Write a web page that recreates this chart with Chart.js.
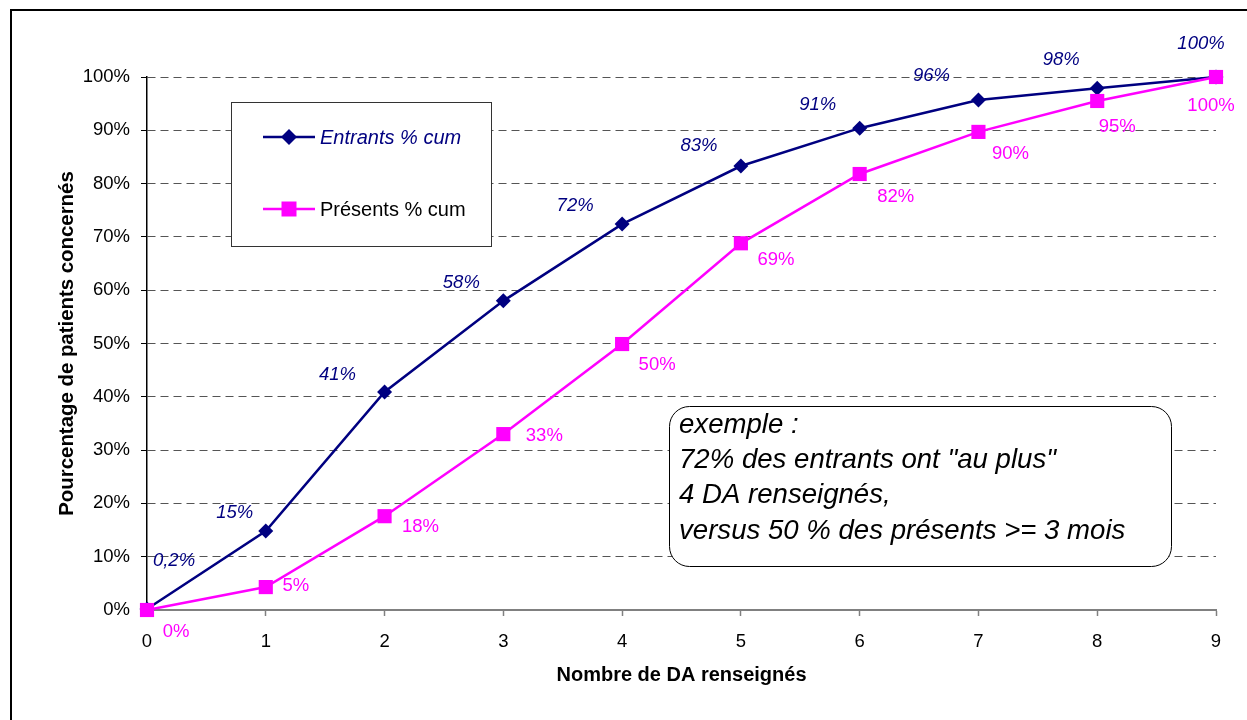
<!DOCTYPE html>
<html>
<head>
<meta charset="utf-8">
<script src="https://cdn.jsdelivr.net/npm/chart.js@4.4.1/dist/chart.umd.min.js"></script>
<style>
  html, body { margin: 0; padding: 0; background: #fff; }
  canvas { display: block; }
</style>
</head>
<body>
<canvas id="chart" width="1247" height="720"></canvas>
<script>
// data
const categories = ["0", "1", "2", "3", "4", "5", "6", "7", "8", "9"];
const entrants = [0.2, 14.8, 40.9, 58.0, 72.4, 83.3, 90.4, 95.7, 97.9, 100];
const presents = [0, 4.3, 17.6, 33.0, 49.9, 68.8, 81.8, 89.7, 95.5, 100];
const entrantsLabels = ["0,2%", "15%", "41%", "58%", "72%", "83%", "91%", "96%", "98%", "100%"];
const presentsLabels = ["0%", "5%", "18%", "33%", "50%", "69%", "82%", "90%", "95%", "100%"];
const noteLines = [
    "exemple :",
    "72% des entrants ont \"au plus\"",
    "4 DA renseignés,",
    "versus 50 % des présents >= 3 mois"
];

// label placement (px offsets from each point, as in the original)
const entrantsDx = [27, -31, -47, -42, -47, -42, -42, -47, -36, -15];
const entrantsDy = [-48, -18, -17, -18, -18, -20, -23, -24, -28, -33];
const presentsDx = [29, 30, 36, 41, 35, 35, 36, 32, 20, -5];
const presentsDy = [22, -1, 11, 2, 21, 17, 23, 22, 26, 29];

const FONT = "'Liberation Sans', Arial, sans-serif";
const NAVY = "#000080";
const PINK = "#FF00FF";

function marker(ctx, style, x, y, color) {
    ctx.fillStyle = color;
    ctx.beginPath();
    if (style === "rectRot") {
        ctx.moveTo(x, y - 8);
        ctx.lineTo(x + 8, y);
        ctx.lineTo(x, y + 8);
        ctx.lineTo(x - 8, y);
        ctx.closePath();
    } else {
        ctx.rect(x - 7.5, y - 7.5, 15, 15);
    }
    ctx.fill();
}

function roundRect(ctx, x, y, w, h, r) {
    ctx.beginPath();
    ctx.moveTo(x + r, y);
    ctx.lineTo(x + w - r, y);
    ctx.arcTo(x + w, y, x + w, y + r, r);
    ctx.lineTo(x + w, y + h - r);
    ctx.arcTo(x + w, y + h, x + w - r, y + h, r);
    ctx.lineTo(x + r, y + h);
    ctx.arcTo(x, y + h, x, y + h - r, r);
    ctx.lineTo(x, y + r);
    ctx.arcTo(x, y, x + r, y, r);
    ctx.closePath();
}

const extras = {
    id: "extras",
    beforeDraw(chart) {
        const ctx = chart.ctx;
        ctx.save();
        ctx.fillStyle = "#fff";
        ctx.fillRect(0, 0, chart.width, chart.height);
        // outer frame
        ctx.strokeStyle = "#000";
        ctx.lineWidth = 2;
        ctx.beginPath();
        ctx.moveTo(11, 721);
        ctx.lineTo(11, 10);
        ctx.lineTo(1250, 10);
        ctx.stroke();
        ctx.restore();
    },
    beforeDatasetsDraw(chart) {
        const ctx = chart.ctx;
        ctx.save();

        // legend box
        ctx.fillStyle = "#fff";
        ctx.fillRect(231, 102, 261, 145);
        ctx.strokeStyle = "#333";
        ctx.lineWidth = 1;
        ctx.strokeRect(231.5, 102.5, 260, 144);

        const rows = [
            { ds: chart.data.datasets[0], y: 137, italic: true, text: NAVY },
            { ds: chart.data.datasets[1], y: 209, italic: false, text: "#000" }
        ];
        rows.forEach(r => {
            ctx.strokeStyle = r.ds.borderColor;
            ctx.lineWidth = 2.5;
            ctx.beginPath();
            ctx.moveTo(263, r.y);
            ctx.lineTo(315, r.y);
            ctx.stroke();
            marker(ctx, r.ds.pointStyle, 289, r.y, r.ds.borderColor);
            ctx.fillStyle = r.text;
            ctx.font = (r.italic ? "italic " : "") + "20px " + FONT;
            ctx.textAlign = "left";
            ctx.textBaseline = "middle";
            ctx.fillText(r.ds.label, 320, r.y + 1);
        });

        // note box
        roundRect(ctx, 669.5, 406.5, 502, 160, 20);
        ctx.fillStyle = "#fff";
        ctx.fill();
        ctx.strokeStyle = "#000";
        ctx.lineWidth = 1;
        ctx.stroke();
        ctx.fillStyle = "#000";
        ctx.font = "italic 27.6px " + FONT;
        ctx.textAlign = "left";
        ctx.textBaseline = "middle";
        noteLines.forEach((t, i) => ctx.fillText(t, 679, 425 + i * 35.3));

        ctx.restore();
    },
    afterDatasetsDraw(chart) {
        const ctx = chart.ctx;
        ctx.save();
        ctx.textAlign = "center";
        ctx.textBaseline = "middle";

        const m0 = chart.getDatasetMeta(0);
        ctx.fillStyle = NAVY;
        ctx.font = "italic 18.5px " + FONT;
        m0.data.forEach((pt, i) => {
            ctx.fillText(entrantsLabels[i], pt.x + entrantsDx[i], pt.y + entrantsDy[i]);
        });

        const m1 = chart.getDatasetMeta(1);
        ctx.fillStyle = PINK;
        ctx.font = "18.5px " + FONT;
        m1.data.forEach((pt, i) => {
            ctx.fillText(presentsLabels[i], pt.x + presentsDx[i], pt.y + presentsDy[i]);
        });
        ctx.restore();
    }
};

new Chart(document.getElementById("chart"), {
    type: "line",
    data: {
        labels: categories,
        datasets: [
            {
                label: "Entrants % cum",
                data: entrants,
                borderColor: NAVY,
                backgroundColor: NAVY,
                borderWidth: 2.5,
                pointStyle: "rectRot",
                pointRadius: 7.5,
                pointBorderWidth: 0,
                tension: 0,
                clip: false,
                order: 1
            },
            {
                label: "Présents % cum",
                data: presents,
                borderColor: PINK,
                backgroundColor: PINK,
                borderWidth: 2.5,
                pointStyle: "rect",
                pointRadius: 10,
                pointBorderWidth: 0,
                tension: 0,
                clip: false,
                order: 0
            }
        ]
    },
    options: {
        responsive: false,
        animation: false,
        devicePixelRatio: 1,
        layout: {
            padding: { left: 50, top: 77, right: 31, bottom: 25 }
        },
        plugins: {
            legend: { display: false },
            tooltip: { enabled: false }
        },
        scales: {
            x: {
                offset: false,
                afterFit: scale => { scale.height = 85; },
                grid: {
                    drawOnChartArea: false,
                    tickLength: 6,
                    tickColor: "#808080",
                    tickWidth: 1.5
                },
                border: { color: "#808080", width: 2 },
                ticks: {
                    color: "#000",
                    padding: 15,
                    maxRotation: 0,
                    font: { family: FONT, size: 18.5 }
                },
                title: {
                    display: true,
                    text: "Nombre de DA renseignés",
                    color: "#000",
                    font: { family: FONT, size: 20, weight: "bold" },
                    padding: { top: 0, bottom: 8 }
                }
            },
            y: {
                min: 0,
                max: 100,
                afterFit: scale => { scale.width = 97; },
                grid: {
                    color: "#555",
                    lineWidth: 1,
                    tickLength: 6,
                    tickColor: "#000"
                },
                border: { color: "#000", width: 1.5, dash: [8, 5] },
                ticks: {
                    stepSize: 10,
                    color: "#000",
                    padding: 11,
                    font: { family: FONT, size: 18.5 },
                    callback: v => v + "%"
                },
                title: {
                    display: true,
                    text: "Pourcentage de patients concernés",
                    color: "#000",
                    font: { family: FONT, size: 20.4, weight: "bold" },
                    padding: { top: 5, bottom: 0 }
                }
            }
        }
    },
    plugins: [extras]
});
</script>
</body>
</html>
